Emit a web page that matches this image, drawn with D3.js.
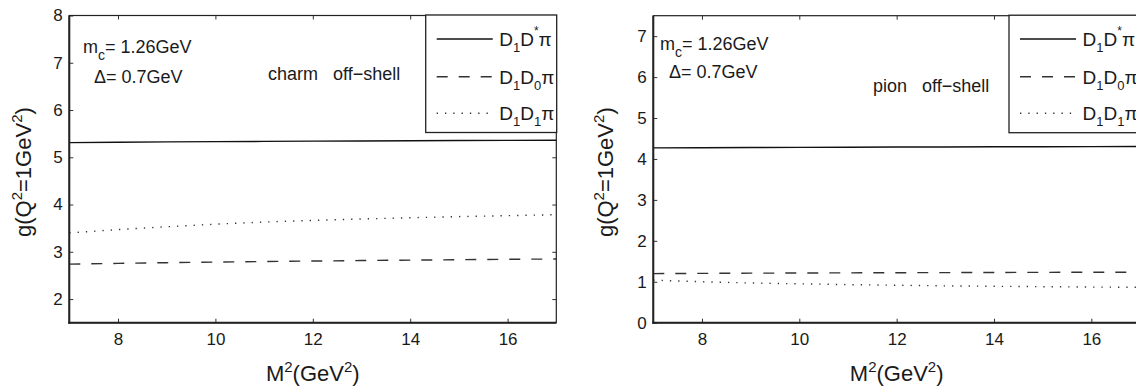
<!DOCTYPE html>
<html>
<head>
<meta charset="utf-8">
<script src="https://cdn.jsdelivr.net/npm/d3@7"></script>
<style>
  html, body { margin: 0; padding: 0; background: #fff; }
  svg { display: block; font-family: "Liberation Sans", Arial, Helvetica, sans-serif; }
  text { fill: #1a1a1a; }
</style>
</head>
<body>
<svg id="chart" width="1136" height="388"></svg>
<script>
// ---------- data ----------
const m2 = [7, 8, 9, 10, 11, 12, 13, 14, 15, 16, 17];

// charm off-shell
const charmDstarPi = [5.31, 5.318, 5.325, 5.331, 5.336, 5.341, 5.346, 5.35, 5.354, 5.358, 5.362];
const charmD0Pi    = [2.74, 2.755, 2.77, 2.783, 2.795, 2.805, 2.815, 2.824, 2.833, 2.841, 2.848];
const charmD1Pi    = [3.40, 3.47, 3.53, 3.585, 3.63, 3.665, 3.695, 3.72, 3.745, 3.765, 3.785];

// pion off-shell
const pionDstarPi = [4.27, 4.275, 4.28, 4.284, 4.288, 4.291, 4.294, 4.297, 4.30, 4.302, 4.305];
const pionD0Pi    = [1.20, 1.205, 1.21, 1.214, 1.218, 1.221, 1.224, 1.227, 1.23, 1.232, 1.235];
const pionD1Pi    = [1.04, 1.00, 0.97, 0.95, 0.93, 0.915, 0.90, 0.89, 0.88, 0.87, 0.865];

const xTicks = [8, 10, 12, 14, 16];
const charmYTicks = [2, 3, 4, 5, 6, 7, 8];
const pionYTicks = [0, 1, 2, 3, 4, 5, 6, 7];

const xDomain = [7, 17];
const charmYDomain = [1.5, 8];
const pionYDomain = [0, 7.5];

// ---------- drawing ----------
const svg = d3.select("#chart");

const styles = [
  { dash: null, width: 1.4, color: "#111" },
  { dash: "11,11", width: 1.4, color: "#333" },
  { dash: "1.3,7", width: 1.4, color: "#333" }
];

function drawPanel(cfg) {
  const x = d3.scaleLinear().domain(xDomain).range([cfg.x0, cfg.x1]);
  const y = d3.scaleLinear().domain(cfg.yDomain).range([cfg.y1, cfg.y0]);
  const g = svg.append("g");

  // ticks (inward on all four sides)
  const axB = d3.axisBottom(x).tickValues(xTicks).tickSizeInner(-4).tickSizeOuter(0).tickPadding(10.6).tickFormat(d3.format("d"));
  const axT = d3.axisTop(x).tickValues(xTicks).tickSizeInner(-4).tickSizeOuter(0).tickFormat("");
  const axL = d3.axisLeft(y).tickValues(cfg.yTicks).tickSizeInner(-4).tickSizeOuter(0).tickPadding(6.6).tickFormat(d3.format("d"));
  const axR = d3.axisRight(y).tickValues(cfg.yTicks).tickSizeInner(-4).tickSizeOuter(0).tickFormat("");

  const gb = g.append("g").attr("transform", `translate(0,${cfg.y1})`).call(axB);
  const gt = g.append("g").attr("transform", `translate(0,${cfg.y0})`).call(axT);
  const gl = g.append("g").attr("transform", `translate(${cfg.x0},0)`).call(axL);
  const gr = g.append("g").attr("transform", `translate(${cfg.x1},0)`).call(axR);
  [gb, gt, gl, gr].forEach(a => {
    a.select(".domain").remove();
    a.attr("font-family", null);
    a.selectAll(".tick line").attr("stroke", "#333").attr("stroke-width", 1);
    a.selectAll(".tick text").attr("font-size", 17).attr("fill", "#1a1a1a");
  });

  // series
  const line = d3.line().x((d, i) => x(m2[i])).y(d => y(d));
  cfg.series.forEach((s, i) => {
    const st = styles[i];
    g.append("path").datum(s)
      .attr("d", line)
      .attr("fill", "none")
      .attr("stroke", st.color)
      .attr("stroke-width", st.width)
      .attr("stroke-dasharray", st.dash);
  });

  // frame: left & bottom thicker
  g.append("rect").attr("x", cfg.x0).attr("y", cfg.y0)
    .attr("width", cfg.x1 - cfg.x0).attr("height", cfg.y1 - cfg.y0)
    .attr("fill", "none").attr("stroke", "#222").attr("stroke-width", 1.2);
  g.append("line").attr("x1", cfg.x0).attr("x2", cfg.x0).attr("y1", cfg.y0).attr("y2", cfg.y1 + 1)
    .attr("stroke", "#222").attr("stroke-width", 2);
  g.append("line").attr("x1", cfg.x0 - 1).attr("x2", cfg.x1).attr("y1", cfg.y1).attr("y2", cfg.y1)
    .attr("stroke", "#222").attr("stroke-width", 2);

  // annotations
  const t1 = g.append("text").attr("x", cfg.mcX).attr("y", cfg.mcY).attr("font-size", 18);
  t1.append("tspan").text("m");
  t1.append("tspan").attr("dy", 7).attr("font-size", 14).text("c");
  t1.append("tspan").attr("dy", -7).text("= 1.26GeV");
  g.append("text").attr("x", cfg.dX).attr("y", cfg.dY).attr("font-size", 18).text("\u0394= 0.7GeV");
  g.append("text").attr("x", cfg.offX).attr("y", cfg.offY).attr("font-size", 18)
    .attr("xml:space", "preserve").style("white-space", "pre").text(cfg.offText);

  // axis titles
  const xt = g.append("text").attr("x", x(12)).attr("y", 381)
    .attr("text-anchor", "middle").attr("font-size", 22);
  xt.append("tspan").text("M");
  xt.append("tspan").attr("dy", -9).attr("font-size", 15).text("2");
  xt.append("tspan").attr("dy", 9).text("(GeV");
  xt.append("tspan").attr("dy", -9).attr("font-size", 15).text("2");
  xt.append("tspan").attr("dy", 9).text(")");

  const yt = g.append("text")
    .attr("transform", `translate(${cfg.ytX},${(cfg.y0 + cfg.y1) / 2 + 3}) rotate(-90)`)
    .attr("text-anchor", "middle").attr("font-size", 22);
  yt.append("tspan").text("g(Q");
  yt.append("tspan").attr("dy", -9).attr("font-size", 15).text("2");
  yt.append("tspan").attr("dy", 9).text("=1GeV");
  yt.append("tspan").attr("dy", -9).attr("font-size", 15).text("2");
  yt.append("tspan").attr("dy", 9).text(")");

  // legend
  const lx = cfg.legX, ly = cfg.y0 - 0.5, lw = 131, lh = 117.5;
  g.append("rect").attr("x", lx).attr("y", ly).attr("width", lw).attr("height", lh)
    .attr("fill", "#fff").attr("stroke", "#222").attr("stroke-width", 1.3);
  const rows = [39, 76.7, 113.3];
  const labels = [["D", "1", "D", "*", "\u03c0"], ["D", "1", "D", "0", "\u03c0"], ["D", "1", "D", "1", "\u03c0"]];
  rows.forEach((ry, i) => {
    const st = styles[i];
    g.append("line").attr("x1", lx + 11).attr("x2", lx + 67).attr("y1", ry).attr("y2", ry)
      .attr("stroke", st.color).attr("stroke-width", st.width).attr("stroke-dasharray", st.dash);
    const t = g.append("text").attr("x", lx + 73.5).attr("y", ry + 7).attr("font-size", 19);
    const L = labels[i];
    t.append("tspan").text(L[0]);
    t.append("tspan").attr("dy", 6).attr("font-size", 13).text(L[1]);
    t.append("tspan").attr("dy", -6).text(L[2]);
    if (i === 0) {
      t.append("tspan").attr("dy", -11).attr("font-size", 12).text(L[3]);
      t.append("tspan").attr("dy", 11).text(L[4]);
    } else {
      t.append("tspan").attr("dy", 6).attr("font-size", 13).text(L[3]);
      t.append("tspan").attr("dy", -6).text(L[4]);
    }
  });
}

drawPanel({
  x0: 69.3, x1: 556.3, y0: 15.5, y1: 322.7,
  yDomain: charmYDomain, yTicks: charmYTicks,
  series: [charmDstarPi, charmD0Pi, charmD1Pi],
  mcX: 83, mcY: 53, dX: 94, dY: 83,
  offX: 268, offY: 80, offText: "charm   off\u2212shell",
  ytX: 31, legX: 425.7
});

drawPanel({
  x0: 653.3, x1: 1140, y0: 15.7, y1: 322.7,
  yDomain: pionYDomain, yTicks: pionYTicks,
  series: [pionDstarPi, pionD0Pi, pionD1Pi],
  mcX: 660, mcY: 50, dX: 669, dY: 77.5,
  offX: 873, offY: 92, offText: "pion   off\u2212shell",
  ytX: 613, legX: 1009
});
</script>
</body>
</html>
